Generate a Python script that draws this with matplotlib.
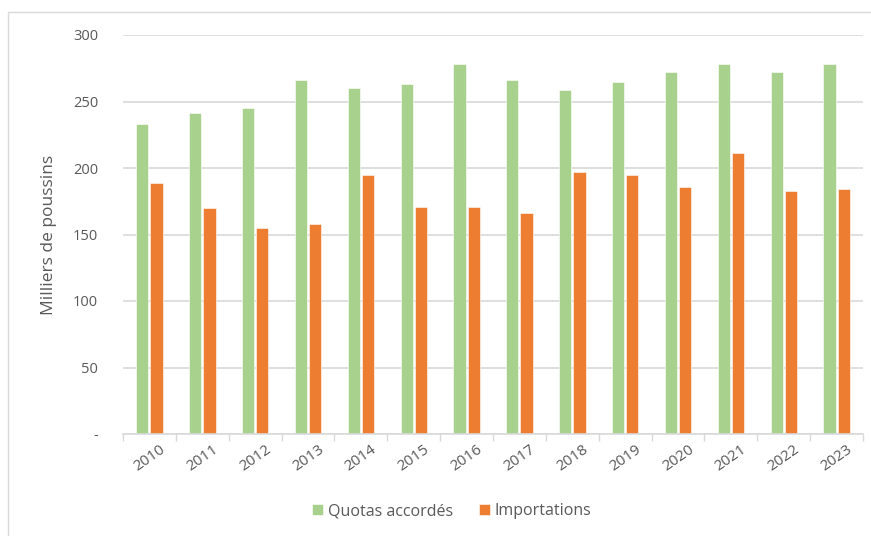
import numpy as np
import matplotlib
matplotlib.use('Agg')
import matplotlib.pyplot as plt
from matplotlib.patches import Rectangle

years = ['2010', '2011', '2012', '2013', '2014', '2015', '2016',
         '2017', '2018', '2019', '2020', '2021', '2022', '2023']
quotas = [233, 241, 245, 266, 260, 263, 278, 266, 259, 265, 272, 278, 272, 278]
imports = [189, 170, 155, 158, 195, 171, 171, 166, 197, 195, 186, 211, 183, 184]
yticks = [0, 50, 100, 150, 200, 250, 300]
ytick_labels = ['-', '50', '100', '150', '200', '250', '300']

GREEN = '#a9d18e'
ORANGE = '#ed7d31'
TEXT = '#595959'

plt.rcParams['font.family'] = ['Open Sans', 'DejaVu Sans']

fig = plt.figure(figsize=(8.71, 5.36), dpi=100)
ax = fig.add_axes([123 / 871, 1 - 434 / 536, 740 / 871, 399 / 536])

x = np.arange(len(years))
width = 0.23
ax.bar(x - 0.135, quotas, width, color=GREEN, label='Quotas accordés',
       edgecolor='white', linewidth=0.4)
ax.bar(x + 0.135, imports, width, color=ORANGE, label='Importations',
       edgecolor='white', linewidth=0.4)

ax.set_xlim(-0.5, len(years) - 0.5)
ax.set_ylim(0, 300)
ax.set_yticks(yticks)
ax.set_yticklabels(ytick_labels, color=TEXT, fontsize=10.5)
ax.tick_params(axis='y', length=0, pad=18)

ax.set_xticks(x)
ax.set_xticklabels(years, rotation=35, color=TEXT, fontsize=11,
                   ha='center', rotation_mode='default')
ax.tick_params(axis='x', length=0, pad=6)
ax.set_xticks(np.arange(len(years) + 1) - 0.5, minor=True)
ax.tick_params(axis='x', which='minor', length=5, color='#d9d9d9', width=1)

ax.grid(True, axis='y', color='#d9d9d9', linewidth=1.2)
ax.set_axisbelow(True)
for side in ['top', 'right', 'left']:
    ax.spines[side].set_visible(False)
ax.spines['bottom'].set_color('#d9d9d9')
ax.spines['bottom'].set_linewidth(1.2)

ax.set_ylabel('Milliers de poussins', color=TEXT, fontsize=12.5, labelpad=11)

leg = fig.legend(loc='center', bbox_to_anchor=(452 / 871, 1 - 511 / 536), ncol=2,
                 frameon=False, fontsize=11.5, handlelength=0.7, handleheight=0.7,
                 columnspacing=1.6, handletextpad=0.3)
for t in leg.get_texts():
    t.set_color(TEXT)

fig.patches.append(Rectangle((8 / 871, -0.01), 1.0, 1 - 12 / 536 + 0.01,
                             transform=fig.transFigure, fill=False,
                             edgecolor='#d9d9d9', linewidth=1))

fig.savefig('out.png', dpi=100)
